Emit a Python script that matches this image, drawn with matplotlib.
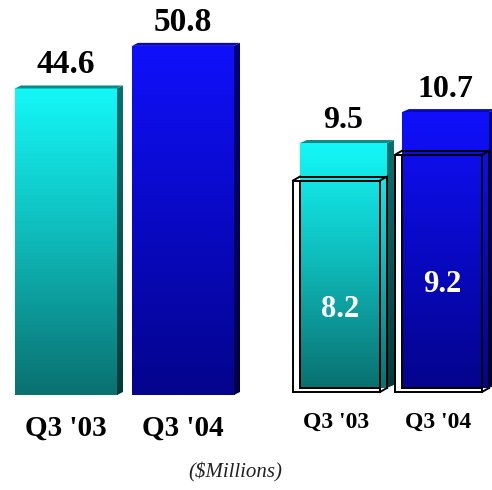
"""
Quarterly comparison: total and segment bars, Q3 '03 vs Q3 '04 ($Millions).
"""
import numpy as np
import matplotlib.pyplot as plt
from matplotlib.colors import LinearSegmentedColormap
from matplotlib.patches import Polygon, Rectangle

# Data
periods = ["Q3 '03", "Q3 '04"]
total_values = [44.6, 50.8]
segment_values = [9.5, 10.7]
segment_core_values = [8.2, 9.2]
unit_note = "($Millions)"

# Face colours: front gradient (top -> bottom), side gradient, top face
_CYAN_FRONT = LinearSegmentedColormap.from_list("cyan_front", ["#14F8F8", "#0FB8B8", "#0A7070"])
_BLUE_FRONT = LinearSegmentedColormap.from_list("blue_front", ["#1010FC", "#0909C4", "#04048C"])
_CYAN_SIDE = LinearSegmentedColormap.from_list("cyan_side", ["#0B7070", "#053A3A"])
_BLUE_SIDE = LinearSegmentedColormap.from_list("blue_side", ["#00007E", "#000040"])
_CYAN_TOP = "#0C8A8A"
_BLUE_TOP = "#0808B4"

STYLES = [(_CYAN_FRONT, _CYAN_SIDE, _CYAN_TOP), (_BLUE_FRONT, _BLUE_SIDE, _BLUE_TOP)]

SERIF = "Liberation Serif"


def _gradient_fill(ax, patch, extent, cmap, z):
    ax.add_patch(patch)
    grad = np.linspace(0, 1, 256).reshape(-1, 1)
    im = ax.imshow(grad, extent=extent, cmap=cmap, aspect="auto",
                   origin="upper", zorder=z, interpolation="bilinear")
    im.set_clip_path(patch)
    im.set_clip_on(True)


def draw_bar(ax, x, h, width, style, dx, dy, z=2):
    """Pseudo-3D bar: gradient front face, shaded side and top faces."""
    front_cmap, side_cmap, top_color = style
    x0, x1 = x - width / 2, x + width / 2

    front = Rectangle((x0, 0), width, h, facecolor="none", edgecolor="none", zorder=z)
    _gradient_fill(ax, front, (x0, x1, 0, h), front_cmap, z)

    side = Polygon([(x1, 0), (x1 + dx, dy), (x1 + dx, h + dy), (x1, h)],
                   facecolor="none", edgecolor="none", zorder=z)
    _gradient_fill(ax, side, (x1, x1 + dx, 0, h + dy), side_cmap, z)

    top = Polygon([(x0, h), (x0 + dx, h + dy), (x1 + dx, h + dy), (x1, h)],
                  facecolor=top_color, edgecolor="none", zorder=z)
    ax.add_patch(top)
    return x0, x1


def draw_wire_box(ax, x0, x1, h, ddx, ddy, z=5):
    """Outlined box sitting in front of a bar, bevelled white on left and bottom."""
    kw = dict(facecolor="white", edgecolor="none", zorder=z, clip_on=False)
    ax.add_patch(Rectangle((x0 - ddx, -ddy), ddx, h, **kw))
    ax.add_patch(Rectangle((x0 - ddx, -ddy), x1 - x0, ddy, **kw))

    lk = dict(color="black", lw=1.4, zorder=z + 1, clip_on=False,
              solid_joinstyle="miter")
    fx0, fx1, fy0, fy1 = x0 - ddx, x1 - ddx, -ddy, h - ddy
    ax.plot([fx0, fx1, fx1, fx0, fx0], [fy0, fy0, fy1, fy1, fy0], **lk)
    ax.plot([x0, x1, x1], [h, h, 0], **lk)
    ax.plot([x0, x0, fx1], [fy1, 0, 0], **lk)
    ax.plot([fx0, x0], [fy1, h], **lk)
    ax.plot([fx1, x1], [fy1, h], **lk)
    ax.plot([fx1, x1], [fy0, 0], **lk)


def fig_x(ax, x):
    """Figure-fraction x of a data x position."""
    return ax.transData.transform((x, 0))[0] / ax.figure.bbox.width


fig = plt.figure(figsize=(4.92, 4.90), dpi=100)
fig.patch.set_facecolor("white")

# Left panel: totals
ax_l = fig.add_axes([0.01524, 0.1939, 0.4756, 0.7714])
ax_l.set_xlim(-0.5, 1.5)
ax_l.set_ylim(0, 55)
ax_l.axis("off")

px_x_l = 234 / 2.0      # pixels per x unit
px_y_l = 378 / 55.0     # pixels per y unit
for i, v in enumerate(total_values):
    draw_bar(ax_l, i, v, 0.872, STYLES[i], 6 / px_x_l, 3 / px_y_l)
    ax_l.annotate(f"{v:.1f}", (i, v), xytext=(0, 17), textcoords="offset points",
                  ha="center", va="center", fontsize=24, fontweight="bold",
                  family=SERIF, color="black", zorder=10)
    fig.text(fig_x(ax_l, i), 0.1265, periods[i], ha="center", va="center",
             fontsize=21, fontweight="bold", family=SERIF, color="black")

# Right panel: segment with core portion outlined
ax_r = fig.add_axes([0.5945, 0.2082, 0.4146, 0.7367])
ax_r.set_xlim(-0.5, 1.5)
ax_r.set_ylim(0, 14)
ax_r.axis("off")

px_x_r = 204 / 2.0
px_y_r = 361 / 14.0
ddx = 7 / px_x_r
ddy = 4 / px_y_r
for i, (v, core) in enumerate(zip(segment_values, segment_core_values)):
    x0, x1 = draw_bar(ax_r, i, v, 0.853, STYLES[i], 7 / px_x_r, 3 / px_y_r)
    draw_wire_box(ax_r, x0, x1, core, ddx, ddy)
    ax_r.annotate(f"{v:.1f}", (i, v), xytext=(0, 16), textcoords="offset points",
                  ha="center", va="center", fontsize=23, fontweight="bold",
                  family=SERIF, color="black", zorder=10)
    ax_r.annotate(f"{core:.1f}", (i - ddx / 2, core), xytext=(0, -96),
                  textcoords="offset points", ha="center", va="center",
                  fontsize=22, fontweight="bold", family=SERIF, color="white",
                  zorder=10)
    fig.text(fig_x(ax_r, i - ddx), 0.1388, periods[i], ha="center", va="center",
             fontsize=17, fontweight="bold", family=SERIF, color="black")

fig.text(0.4776, 0.0367, unit_note, ha="center", va="center", fontsize=15,
         fontstyle="italic", family=SERIF, color="#222222")

fig.savefig("out.png", dpi=100, facecolor="white")
